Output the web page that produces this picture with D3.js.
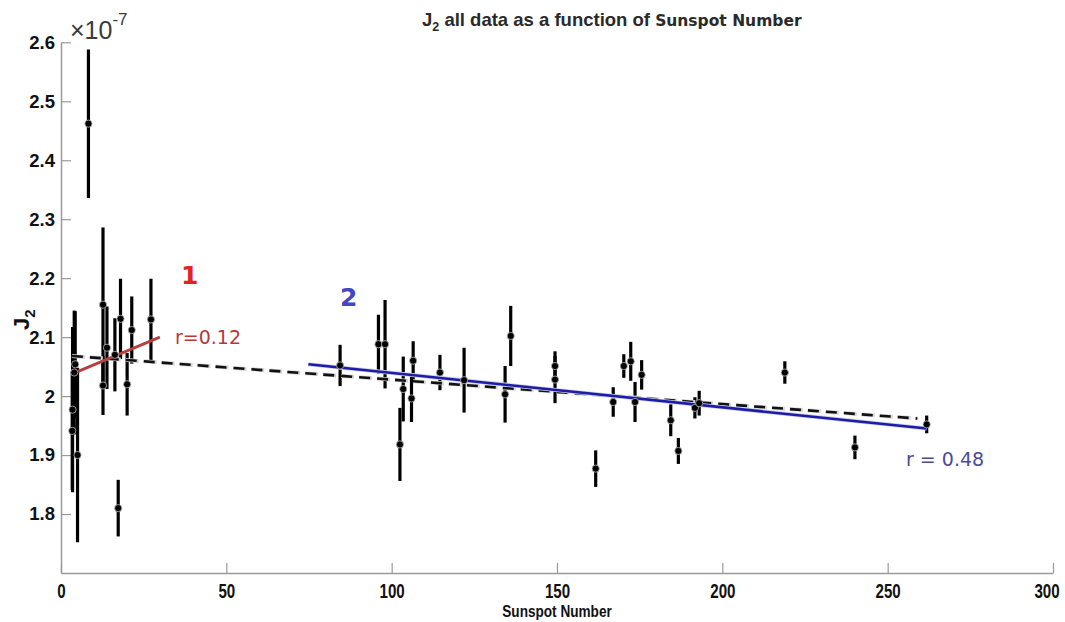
<!DOCTYPE html>
<html>
<head>
<meta charset="utf-8">
<script src="https://cdn.jsdelivr.net/npm/d3@7"></script>
<style>
  body { margin: 0; background: #fff; }
  text { font-family: "Liberation Sans", Arial, sans-serif; }
</style>
</head>
<body>
<script>
var width = 1065,
    height = 622;

// sunspot number, J2 (x 1e-7), error bar half-length
var sunspot = [3.5, 3.4, 4.3, 4.0, 5.0, 8.3, 12.7, 12.7, 13.9, 16.3, 17.3, 18.0, 20.0, 21.4, 27.2,
  84.4, 96.0, 98.0, 102.5, 103.5, 106.0, 106.5, 114.6, 121.9, 134.3, 136.0, 149.4, 149.4,
  161.7, 167.0, 170.2, 172.3, 173.6, 175.6, 184.4, 186.7, 191.7, 193.0, 218.9, 240.1, 261.8];
var j2 = [1.977, 1.941, 2.054, 2.040, 1.900, 2.462, 2.155, 2.018, 2.082, 2.070, 1.810, 2.131, 2.020, 2.112, 2.130,
  2.052, 2.088, 2.088, 1.918, 2.012, 1.996, 2.060, 2.040, 2.027, 2.003, 2.102, 2.051, 2.028,
  1.877, 1.990, 2.051, 2.059, 1.990, 2.036, 1.959, 1.907, 1.980, 1.988, 2.040, 1.913, 1.952];
var err = [0.14, 0.10, 0.09, 0.105, 0.148, 0.126, 0.131, 0.05, 0.07, 0.062, 0.048, 0.068, 0.053, 0.057, 0.069,
  0.035, 0.05, 0.075, 0.062, 0.055, 0.04, 0.033, 0.03, 0.055, 0.048, 0.051, 0.025, 0.04,
  0.031, 0.025, 0.02, 0.033, 0.034, 0.025, 0.027, 0.022, 0.018, 0.021, 0.019, 0.02, 0.015];

// fitted lines (end points)
var fitAllX = [3.3, 259], fitAllY = [2.068, 1.962];
var fit1X = [5.2, 29.9], fit1Y = [2.042, 2.100];
var fit2X = [74.8, 261.8], fit2Y = [2.054, 1.945];

var xTicks = [0, 50, 100, 150, 200, 250, 300];
var yTicks = [1.8, 1.9, 2.0, 2.1, 2.2, 2.3, 2.4, 2.5, 2.6];

var x = d3.scaleLinear().domain([0, 300]).range([61, 1053]);
var y = d3.scaleLinear().domain([1.7, 2.6]).range([573, 42.3]);

var svg = d3.select("body").append("svg")
    .attr("width", width)
    .attr("height", height);

// axes
var xAxis = svg.append("g")
    .attr("transform", "translate(0," + y(1.7) + ")")
    .call(d3.axisBottom(x).tickValues(xTicks).tickSize(-10).tickSizeOuter(0).tickPadding(10));
xAxis.selectAll("text")
    .style("font-weight", "bold")
    .style("font-size", "21px")
    .attr("fill", "#111")
    .attr("transform", "scale(0.72,1)")
    .attr("x", function(d) { return d == 300 ? -9 : 0; });

var yAxis = svg.append("g")
    .attr("transform", "translate(" + x(0) + ",0)")
    .call(d3.axisLeft(y).tickValues(yTicks).tickSize(-10).tickSizeOuter(0).tickPadding(6)
      .tickFormat(function(d) { return +d.toFixed(1) + ""; }));
yAxis.selectAll("text")
    .style("font-weight", "bold")
    .style("font-size", "18.5px")
    .attr("fill", "#111");

svg.selectAll(".domain").attr("stroke", "#9a9a9a").attr("stroke-width", 1.5);
svg.selectAll(".tick line").attr("stroke", "#9a9a9a").attr("stroke-width", 1.2);

// exponent label
var expo = svg.append("text")
    .attr("x", 70)
    .attr("y", 39)
    .attr("fill", "#3a3a3a")
    .style("font-size", "25px");
expo.append("tspan").text("\u00d710");
expo.append("tspan").attr("dy", -14).style("font-size", "17px").text("-7");

// title
var title = svg.append("text")
    .attr("x", 422)
    .attr("y", 26)
    .attr("fill", "#2a2a2a")
    .style("font-weight", "bold")
    .style("font-size", "18.5px");
title.append("tspan").text("J");
title.append("tspan").attr("dy", 5).style("font-size", "12.5px").text("2");
title.append("tspan").attr("dy", -5).text(" all data as a function of ");
title.append("tspan")
    .style("font-family", "'DejaVu Sans', Verdana, sans-serif")
    .style("font-size", "15.5px")
    .text("Sunspot Number");

// axis labels
var xlab = svg.append("text")
    .attr("transform", "translate(" + (x(0) + x(300)) / 2 + ",617) scale(0.8,1)")
    .attr("text-anchor", "middle")
    .attr("fill", "#111")
    .style("font-weight", "bold")
    .style("font-size", "17px")
    .text("Sunspot Number");

var ylab = svg.append("text")
    .attr("transform", "translate(29,330) rotate(-90)")
    .attr("fill", "#111")
    .style("font-weight", "bold")
    .style("font-size", "22px");
ylab.append("tspan").text("J");
ylab.append("tspan").attr("dy", 6).style("font-size", "15px").text("2");

// error bars
var pts = d3.range(sunspot.length);

svg.append("g").selectAll("line")
    .data(pts)
  .enter().append("line")
    .attr("x1", function(i) { return x(sunspot[i]); })
    .attr("x2", function(i) { return x(sunspot[i]); })
    .attr("y1", function(i) { return y(j2[i] - err[i]); })
    .attr("y2", function(i) { return y(j2[i] + err[i]); })
    .attr("stroke", "#000")
    .attr("stroke-width", 3.2);

// fit lines
var line = d3.line()
    .x(function(d) { return x(d[0]); })
    .y(function(d) { return y(d[1]); });

svg.append("path")
    .datum(d3.zip(fitAllX, fitAllY))
    .attr("d", line)
    .attr("fill", "none")
    .attr("stroke", "#d6d6d6")
    .attr("stroke-width", 4)
    .attr("stroke-dasharray", "13,5");
svg.append("path")
    .datum(d3.zip(fitAllX, fitAllY))
    .attr("d", line)
    .attr("fill", "none")
    .attr("stroke", "#111")
    .attr("stroke-width", 2.6)
    .attr("stroke-dasharray", "11,7");

svg.append("path")
    .datum(d3.zip(fit2X, fit2Y))
    .attr("d", line)
    .attr("fill", "none")
    .attr("stroke", "#cfcfe0")
    .attr("stroke-width", 4.2);
svg.append("path")
    .datum(d3.zip(fit2X, fit2Y))
    .attr("d", line)
    .attr("fill", "none")
    .attr("stroke", "#1c1caa")
    .attr("stroke-width", 2.5);

svg.append("path")
    .datum(d3.zip(fit1X, fit1Y))
    .attr("d", line)
    .attr("fill", "none")
    .attr("stroke", "#b4413f")
    .attr("stroke-width", 2.8);

// points
svg.append("g").selectAll("circle")
    .data(pts)
  .enter().append("circle")
    .attr("cx", function(i) { return x(sunspot[i]); })
    .attr("cy", function(i) { return y(j2[i]); })
    .attr("r", 3.6)
    .attr("fill", "#000")
    .attr("stroke", "#bbb")
    .attr("stroke-width", 0.8);

// annotations
svg.append("text")
    .attr("x", 181).attr("y", 284)
    .attr("fill", "#e02424")
    .style("font-family", "'DejaVu Sans', Verdana, sans-serif")
    .style("font-weight", "bold")
    .style("font-size", "25px")
    .text("1");

svg.append("text")
    .attr("x", 340).attr("y", 306)
    .attr("fill", "#4347c4")
    .style("font-family", "'DejaVu Sans', Verdana, sans-serif")
    .style("font-weight", "bold")
    .style("font-size", "25px")
    .text("2");

svg.append("text")
    .attr("x", 175).attr("y", 344)
    .attr("fill", "#b53a3a")
    .style("font-family", "'DejaVu Sans', Verdana, sans-serif")
    .style("font-size", "19px")
    .text("r=0.12");

svg.append("text")
    .attr("x", 906).attr("y", 466)
    .attr("fill", "#4a4c98")
    .style("font-family", "'DejaVu Sans', Verdana, sans-serif")
    .style("font-size", "19px")
    .text("r = 0.48");
</script>
</body>
</html>
